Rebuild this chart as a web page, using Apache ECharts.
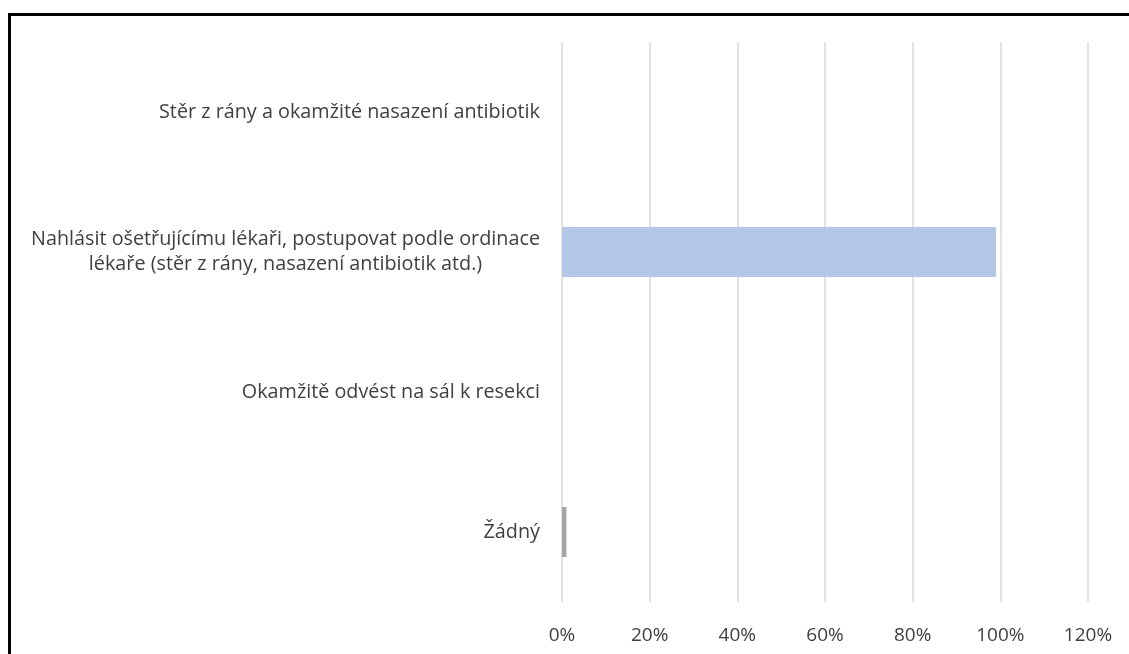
<!DOCTYPE html>
<html>
<head>
<meta charset="utf-8">
<script src="https://cdn.jsdelivr.net/npm/echarts@6/dist/echarts.min.js"></script>
<style>
html,body{margin:0;padding:0;background:#fff;}
#chart{width:1129px;height:654px;}
</style>
</head>
<body>
<div id="chart"></div>
<script>
// categories from bottom to top (category axis starts at the bottom)
var categories = [
	"Žádný",
	"Okamžitě odvést na sál k resekci",
	"Nahlásit ošetřujícímu lékaři, postupovat podle ordinace\nlékaře (stěr z rány, nasazení antibiotik atd.)",
	"Stěr z rány a okamžité nasazení antibiotik"
];
var values = [1, 0, 99, 0];
var barColors = ["#a5a5a5", "#a5a5a5", "#b4c7e7", "#b4c7e7"];
var tickMax = 120;
var tickStep = 20;

var myChart = echarts.init(document.getElementById("chart"));

function getData(){
	var d = [];
	for(var i=0;i<values.length;i++){
		d.push({value: values[i], itemStyle: {color: barColors[i]}});
	}
	return d;
}

var option = {
	animation: false,
	textStyle: {fontFamily: "Open Sans"},
	graphic: [{
		type: "rect",
		shape: {x: 9.5, y: 14.5, width: 1200, height: 700},
		style: {fill: "none", stroke: "#000", lineWidth: 3}
	}],
	grid: {left: 562, right: 41, top: 42, bottom: 52},
	xAxis: {
		type: "value",
		min: 0,
		max: tickMax,
		interval: tickStep,
		axisLine: {show: false},
		axisTick: {show: false},
		splitLine: {lineStyle: {color: "#d9d9d9", width: 1.5}},
		axisLabel: {
			formatter: "{value}%",
			color: "#404040",
			fontSize: 19,
			fontFamily: "Open Sans",
			margin: 24
		}
	},
	yAxis: {
		type: "category",
		data: categories,
		axisLine: {show: false},
		axisTick: {show: false},
		axisLabel: {
			margin: 22,
			formatter: function(v){ return "{c|" + v + "}"; },
			rich: {
				c: {align: "center", color: "#404040", fontSize: 19.8, lineHeight: 25, fontFamily: "Open Sans"}
			}
		}
	},
	series: [{
		type: "bar",
		data: getData(),
		barWidth: 50
	}]
};

myChart.setOption(option);
</script>
</body>
</html>
